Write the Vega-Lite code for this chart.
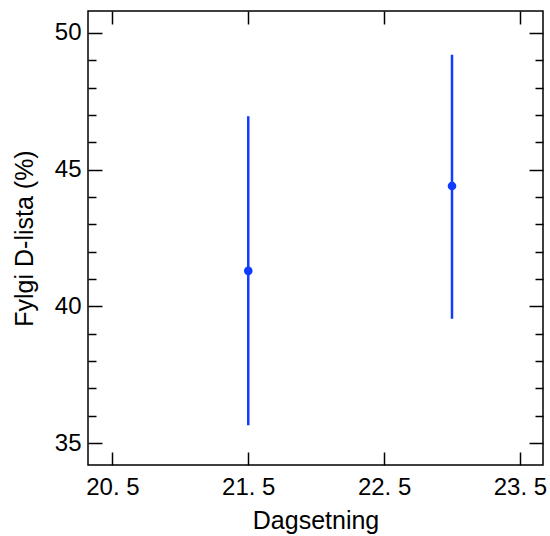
{
  "$schema": "https://vega.github.io/schema/vega-lite/v6.json",
  "width": 455,
  "height": 454,
  "autosize": {"type": "none"},
  "padding": {"left": 88, "top": 11, "right": 7, "bottom": 71},
  "background": "white",
  "config": {
    "view": {"stroke": "black", "strokeWidth": 1.5},
    "axis": {
      "labelFont": "Liberation Sans",
      "titleFont": "Liberation Sans",
      "labelFontSize": 24,
      "titleFontSize": 25,
      "titleFontWeight": "normal",
      "labelColor": "black",
      "titleColor": "black",
      "tickColor": "black",
      "tickWidth": 1.5,
      "domain": false,
      "grid": false
    }
  },
  "data": {
    "values": [
      {"date": 21.5, "mean": 41.3, "lo": 35.65, "hi": 46.95},
      {"date": 23.0, "mean": 44.4, "lo": 39.55, "hi": 49.2}
    ]
  },
  "resolve": {"axis": {"x": "independent", "y": "independent"}},
  "layer": [
    {
      "mark": {"type": "rule", "color": "#0f3cff", "strokeWidth": 2.5},
      "encoding": {
        "x": {
          "field": "date", "type": "quantitative",
          "scale": {"domain": [20.32, 23.67], "nice": false, "zero": false},
          "axis": {
            "orient": "bottom", "title": "Dagsetning", "values": [20.5, 21.5, 22.5, 23.5],
            "tickSize": -13, "labelPadding": 23, "titlePadding": 9,
            "labelFontSize": 24, "titleFontSize": 25,
            "labelExpr": "replace(format(datum.value, '.1f'), '.', '. ')",
            "labelFlush": false
          }
        },
        "y": {
          "field": "lo", "type": "quantitative",
          "scale": {"domain": [34.2, 50.8], "nice": false, "zero": false},
          "axis": {
            "orient": "left", "title": "Fylgi D-lista (%)",
            "values": [35,36,37,38,39,40,41,42,43,44,45,46,47,48,49,50],
            "tickSize": {"condition": {"test": "datum.value % 5 === 0", "value": -14}, "value": -8},
            "labelExpr": "datum.value % 5 === 0 ? datum.label : ''",
            "labelFontSize": 24, "titleFontSize": 25,
            "labelPadding": 21, "titlePadding": 17, "labelFlush": false
          }
        },
        "y2": {"field": "hi"}
      }
    },
    {
      "mark": {"type": "point", "filled": true, "opacity": 1, "color": "#0f3cff", "size": 75},
      "encoding": {
        "x": {
          "field": "date", "type": "quantitative",
          "axis": {
            "orient": "top", "title": null, "values": [20.5, 21.5, 22.5, 23.5],
            "tickSize": -13, "labels": false
          }
        },
        "y": {
          "field": "mean", "type": "quantitative",
          "axis": {
            "orient": "right", "title": null,
            "values": [35,36,37,38,39,40,41,42,43,44,45,46,47,48,49,50],
            "tickSize": {"condition": {"test": "datum.value % 5 === 0", "value": -14}, "value": -8},
            "labels": false
          }
        }
      }
    }
  ]
}
